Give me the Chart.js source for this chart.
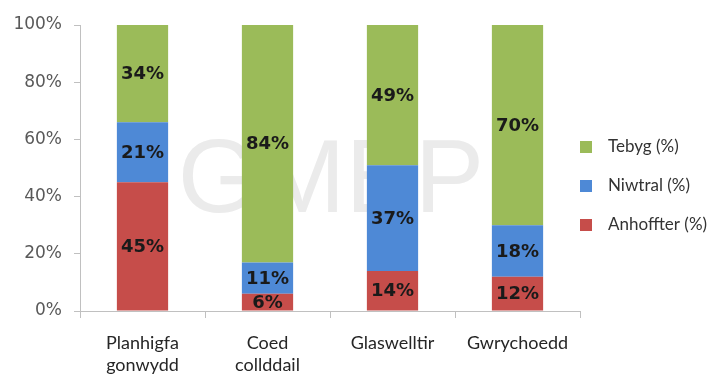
<!DOCTYPE html>
<html>
<head>
<meta charset="utf-8">
<script src="https://cdn.jsdelivr.net/npm/chart.js@4/dist/chart.umd.min.js"></script>
<style>
  html, body { margin: 0; padding: 0; background: #ffffff; }
  #wrap { width: 717px; height: 376px; position: relative; }
</style>
</head>
<body>
<div id="wrap"><canvas id="c" width="717" height="376"></canvas></div>
<script>
// Habitat categories (two-line labels)
const categories = [
  ['Planhigfa', 'gonwydd'],
  ['Coed', 'collddail'],
  ['Glaswelltir'],
  ['Gwrychoedd']
];

// Share of responses per habitat (%)
const anhoffter = [45, 6, 14, 12];
const niwtral   = [21, 11, 37, 18];
const tebyg     = [34, 84, 49, 70];

const seriesNames = ['Anhoffter (%)', 'Niwtral (%)', 'Tebyg (%)'];
const seriesColors = ['#C64D4A', '#4E89D6', '#9BBB59'];

const yTicks = [0, 20, 40, 60, 80, 100];

// Large faint "GMEP" mark behind the bars
const watermark = {
  id: 'watermark',
  beforeDatasetsDraw(chart) {
    const ctx = chart.ctx;
    ctx.save();
    ctx.font = '104px "Liberation Sans", Arial, sans-serif';
    ctx.fillStyle = '#ebebeb';
    ctx.textAlign = 'center';
    ctx.textBaseline = 'alphabetic';
    ctx.fillText('GMEP', 331, 212);
    ctx.restore();
  }
};

// Value labels centred in each bar segment
const segmentLabels = {
  id: 'segmentLabels',
  afterDatasetsDraw(chart) {
    const ctx = chart.ctx;
    ctx.save();
    ctx.font = 'bold 18px "DejaVu Sans", Verdana, sans-serif';
    ctx.fillStyle = '#1a1a1a';
    ctx.textAlign = 'center';
    ctx.textBaseline = 'middle';
    chart.data.datasets.forEach((ds, i) => {
      const meta = chart.getDatasetMeta(i);
      meta.data.forEach((bar, j) => {
        const top = Math.max(bar.y, chart.chartArea.top);
        const y = (top + bar.base) / 2;
        ctx.fillText(ds.data[j] + '%', bar.x, y + 1);
      });
    });
    ctx.restore();
  }
};

// Legend on the right, listed top series first
const sideLegend = {
  id: 'sideLegend',
  afterDraw(chart) {
    const ctx = chart.ctx;
    const x0 = chart.chartArea.right;
    const rows = [147, 186, 225];
    ctx.save();
    ctx.font = '17px Lato, "Open Sans", sans-serif';
    ctx.textBaseline = 'middle';
    ctx.textAlign = 'left';
    const order = chart.data.datasets.map((d, i) => i).reverse();
    order.forEach((di, k) => {
      const ds = chart.data.datasets[di];
      const y = rows[k];
      ctx.fillStyle = ds.backgroundColor;
      ctx.fillRect(x0, y - 6, 12, 12);
      ctx.fillStyle = '#333333';
      ctx.fillText(ds.label, x0 + 28, y);
    });
    ctx.restore();
  }
};

const axisGrey = '#c0c0c0';

new Chart(document.getElementById('c'), {
  type: 'bar',
  data: {
    labels: categories,
    datasets: [
      { label: seriesNames[0], data: anhoffter, backgroundColor: seriesColors[0] },
      { label: seriesNames[1], data: niwtral,   backgroundColor: seriesColors[1] },
      { label: seriesNames[2], data: tebyg,     backgroundColor: seriesColors[2] }
    ]
  },
  options: {
    responsive: false,
    animation: false,
    devicePixelRatio: 1,
    layout: { padding: { top: 25, right: 137, bottom: 0, left: 0 } },
    datasets: { bar: { barPercentage: 0.41, categoryPercentage: 1.0, borderWidth: 0 } },
    plugins: {
      legend: { display: false },
      tooltip: { enabled: false }
    },
    scales: {
      x: {
        stacked: true,
        offset: true,
        grid: {
          offset: true,
          drawOnChartArea: false,
          drawTicks: true,
          tickLength: 7,
          tickColor: axisGrey
        },
        border: { color: axisGrey, width: 1 },
        ticks: {
          color: '#262626',
          padding: 14,
          maxRotation: 0,
          autoSkip: false,
          font: { family: 'Lato, "Open Sans", sans-serif', size: 18, lineHeight: '22px' }
        },
        afterFit(scale) { scale.height = 65; }
      },
      y: {
        stacked: true,
        min: 0,
        max: 100,
        afterBuildTicks(scale) { scale.ticks = yTicks.map(v => ({ value: v })); },
        grid: {
          drawOnChartArea: false,
          drawTicks: true,
          tickLength: 6,
          tickColor: axisGrey
        },
        border: { color: axisGrey, width: 1 },
        ticks: {
          color: '#595959',
          padding: 12,
          font: { family: '"DejaVu Sans", Verdana, sans-serif', size: 17 },
          callback: v => v + '%'
        },
        afterFit(scale) { scale.width = 80; }
      }
    }
  },
  plugins: [watermark, segmentLabels, sideLegend]
});
</script>
</body>
</html>
